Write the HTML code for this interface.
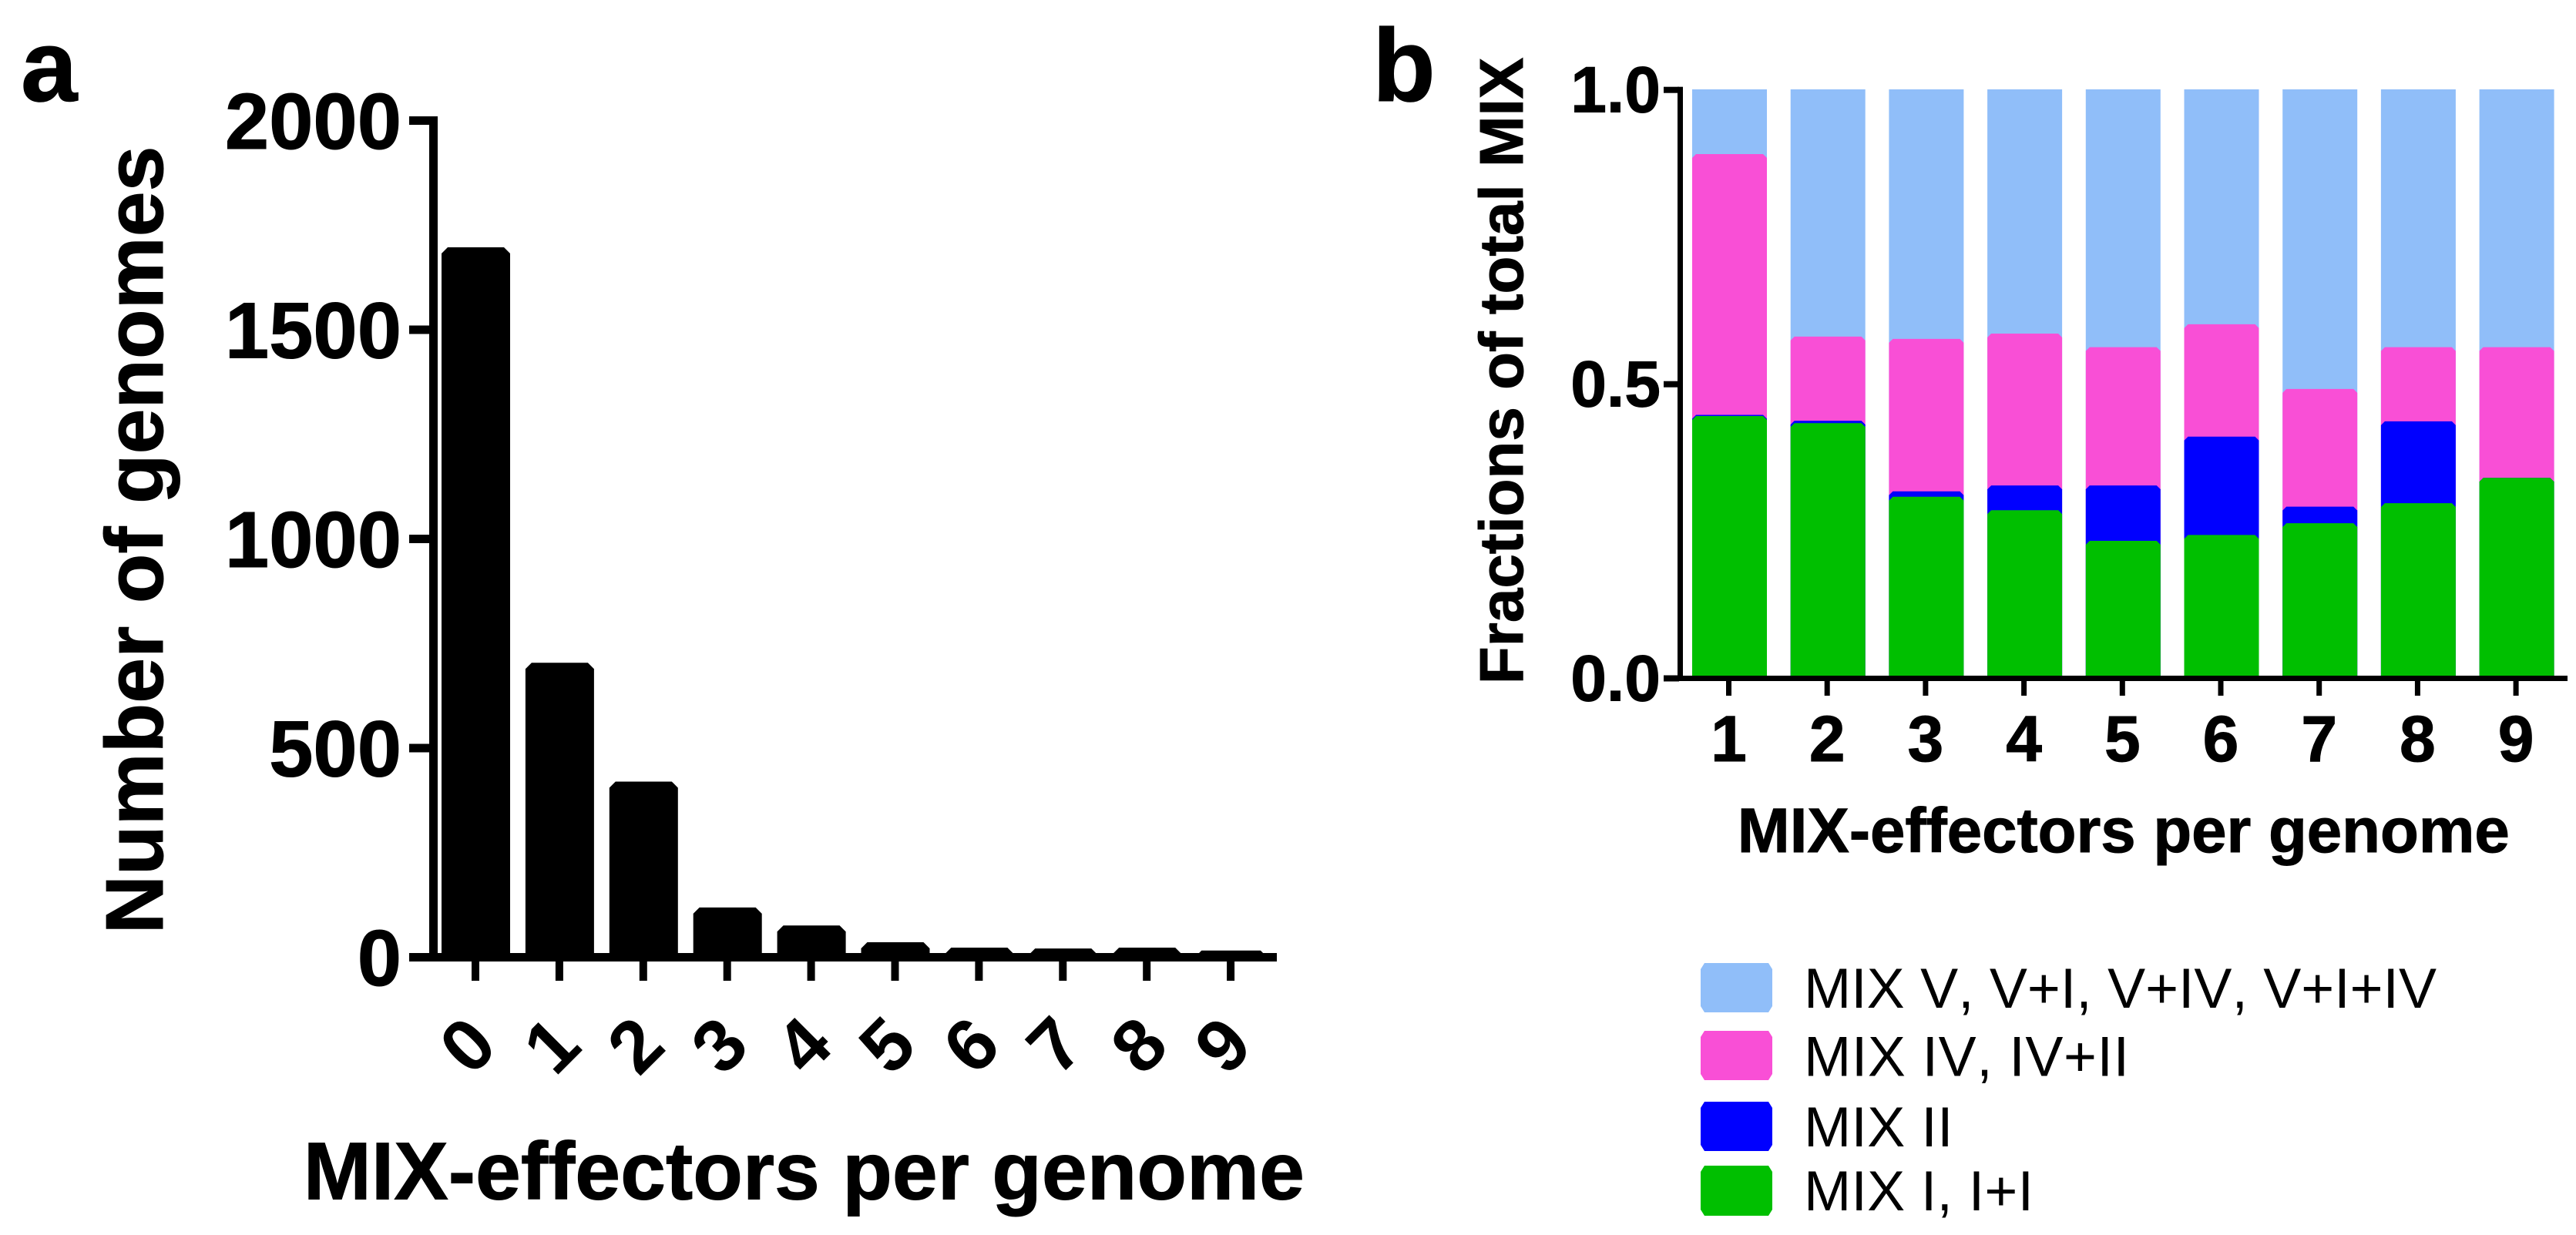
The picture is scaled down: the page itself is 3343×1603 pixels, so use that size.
<!DOCTYPE html>
<html lang="en">
<head>
<meta charset="utf-8">
<title>MIX-effectors per genome</title>
<style>
html,body{margin:0;padding:0;background:#fff;}
svg{display:block;}
text{font-family:"Liberation Sans",Arial,sans-serif;fill:#000;font-kerning:none;}
.b{font-weight:bold;stroke:#000;stroke-width:1px;stroke-linejoin:miter;}
</style>
</head>
<body>
<svg id="fig" xmlns="http://www.w3.org/2000/svg" width="3343" height="1603" viewBox="0 0 3343 1603">
<rect width="3343" height="1603" fill="#fff"/>
<text class="b" x="27" y="131" font-size="132">a</text>
<text class="b" x="1781" y="131" font-size="134">b</text>
<g id="panelA"></g>
<g id="panelB"></g>
<text class="b" transform="translate(211,701) rotate(-90)" text-anchor="middle" font-size="105.8">Number of genomes</text>
<text class="b" x="1043.3" y="1556.3" text-anchor="middle" font-size="105.8">MIX-effectors per genome</text>
<text class="b" transform="translate(1976,481.5) rotate(-90)" text-anchor="middle" font-size="80">Fractions of total MIX</text>
<text class="b" x="2755.8" y="1106" text-anchor="middle" font-size="81.6">MIX-effectors per genome</text>
<g>
<path d="M2212 1250H2295L2300 1258V1306L2295 1314H2212L2207 1306V1258Z" fill="#90BEF9"/>
<text x="2341" y="1308" font-size="73.5" textLength="821" lengthAdjust="spacing">MIX V, V+I, V+IV, V+I+IV</text>
<path d="M2212 1338H2295L2300 1346V1394L2295 1402H2212L2207 1394V1346Z" fill="#F94FD6"/>
<text x="2341" y="1396.5" font-size="73.5" textLength="422" lengthAdjust="spacing">MIX IV, IV+II</text>
<path d="M2212 1430H2295L2300 1438V1486L2295 1494H2212L2207 1486V1438Z" fill="#0000FF"/>
<text x="2341" y="1488" font-size="73.5" textLength="193.5" lengthAdjust="spacing">MIX II</text>
<path d="M2212 1513H2295L2300 1521V1570L2295 1578H2212L2207 1570V1521Z" fill="#00BF00"/>
<text x="2341" y="1571" font-size="73.5" textLength="298" lengthAdjust="spacing">MIX I, I+I</text>
</g>
</svg>
<script>
const countCategories = ['0','1','2','3','4','5','6','7','8','9'];
const genomeCounts = [1697,704,420,119,76,36,23,21,23,16];
const countTicks = [0,500,1000,1500,2000];

const fractionCategories = ['1','2','3','4','5','6','7','8','9'];
const mixI = [0.445,0.433,0.308,0.285,0.233,0.243,0.263,0.297,0.340];
const mixII = [0.002,0.004,0.009,0.042,0.094,0.167,0.028,0.139,0.000];
const mixIV = [0.443,0.143,0.259,0.258,0.235,0.191,0.200,0.126,0.222];
const mixV = [0.110,0.420,0.424,0.415,0.438,0.399,0.509,0.438,0.438];
const fractionTicks = ['0.0','0.5','1.0'];

const NS = 'http://www.w3.org/2000/svg';
function make(parent, tag, attrs) {
  const el = document.createElementNS(NS, tag);
  for (const k in attrs) el.setAttribute(k, attrs[k]);
  parent.appendChild(el);
  return el;
}
function barPath(x0, x1, yTop, yBottom, c) {
  const d = Math.min(c, Math.max(0, yBottom - yTop));
  return 'M' + x0 + ' ' + yBottom + 'V' + (yTop + d) + 'L' + (x0 + d) + ' ' + yTop +
         'H' + (x1 - d) + 'L' + x1 + ' ' + (yTop + d) + 'V' + yBottom + 'Z';
}

/* Panel a */
const gA = document.getElementById('panelA');
const xA = i => 617.5 + i * 108.9;
const yA = v => 1242.5 - v * 0.543;
const BAR_A = 89;

genomeCounts.forEach((v, i) => {
  const bar = make(gA, 'path', {d: barPath(xA(i) - BAR_A / 2, xA(i) + BAR_A / 2, yA(v), 1240, 8), fill: '#000'});
  
  
});
const yAxisA = make(gA, 'rect', {x: 557, y: yA(2000) - 5.5, width: 11, height: yA(0) - yA(2000) + 11, fill: '#000'});


const xAxisA = make(gA, 'rect', {x: 532, y: 1237, width: 1125, height: 11, fill: '#000'});



countTicks.forEach(v => {
  const tick = make(gA, 'rect', {x: 531, y: yA(v) - 5.5, width: 30, height: 11, fill: '#000'});
  
  
  const label = make(gA, 'text', {class: 'b', x: 521, y: yA(v) + 36.5, 'text-anchor': 'end', 'font-size': 103});
  
  
  label.textContent = String(v);
});
countCategories.forEach((c, i) => {
  const tick = make(gA, 'rect', {x: xA(i) - 5.5, y: 1248, width: 10, height: 25, fill: '#000'});
  
  
  const label = make(gA, 'text', {
    transform: 'translate(' + (xA(i) - 11.5) + ',1356) rotate(-45)',
    y: 34, 'text-anchor': 'middle', 'font-size': 96, 'font-weight': 'bold'
  });
  
  
  label.textContent = c;
});

/* Panel b */
const gB = document.getElementById('panelB');
const xB = i => 2244.5 + i * 127.7;
const yB = v => 880 - v * 764;
const BAR_B = 97;

fractionCategories.forEach((c, i) => {
  const c1 = mixI[i];
  const c2 = c1 + mixII[i];
  const c3 = c2 + mixIV[i];
  const c4 = c3 + mixV[i];
  const x0 = xB(i) - BAR_B / 2;
  const x1 = xB(i) + BAR_B / 2;
  const vBar = make(gB, 'path', {d: barPath(x0, x1, yB(c4), 878, 0), fill: '#90BEF9'});
  
  
  const ivBar = make(gB, 'path', {d: barPath(x0, x1, yB(c3), 878, 5), fill: '#F94FD6'});
  
  
  const iiBar = make(gB, 'path', {d: barPath(x0, x1, yB(c2), 878, 5), fill: '#0000FF'});
  
  
  const iBar = make(gB, 'path', {d: barPath(x0, x1, yB(c1), 878, 5), fill: '#00BF00'});
  
  
});
const yAxisB = make(gB, 'rect', {x: 2177, y: 112.7, width: 7, height: 768, fill: '#000'});


const xAxisB = make(gB, 'rect', {x: 2159, y: 877, width: 1173, height: 7, fill: '#000'});



fractionTicks.forEach(t => {
  const v = parseFloat(t);
  const yc = v === 0 ? 880.5 : yB(v) + 0.7;
  const tick = make(gB, 'rect', {x: 2159, y: yc - 4, width: 20, height: 8, fill: '#000'});
  
  
  const label = make(gB, 'text', {class: 'b', x: 2155, y: yc + 29, 'text-anchor': 'end', 'font-size': 84});
  
  
  label.textContent = t;
});
fractionCategories.forEach((c, i) => {
  const tx = 2243.5 + i * 127.7;
  const tick = make(gB, 'rect', {x: tx - 3.5, y: 884, width: 7, height: 19, fill: '#000'});
  
  
  const label = make(gB, 'text', {class: 'b', x: tx, y: 988, 'text-anchor': 'middle', 'font-size': 84});
  
  
  label.textContent = c;
});
</script>
</body>
</html>
